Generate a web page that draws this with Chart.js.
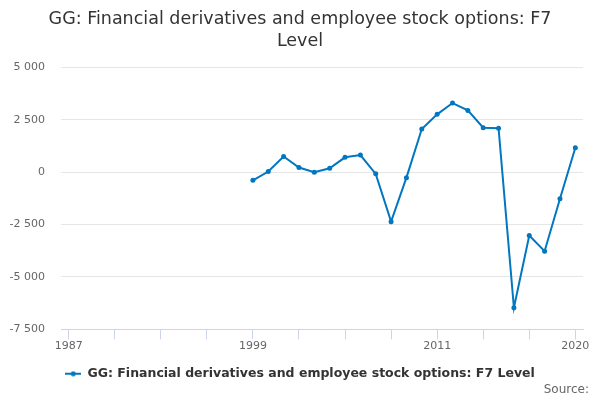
<!DOCTYPE html>
<html>
<head>
<meta charset="utf-8">
<script src="https://cdn.jsdelivr.net/npm/chart.js@4/dist/chart.umd.min.js"></script>
<style>
  html, body { margin: 0; padding: 0; background: #fff; }
  #wrap { width: 600px; height: 400px; }
</style>
</head>
<body>
<div id="wrap"><canvas id="grafico" width="600" height="400"></canvas></div>
<script>
// --- DADOS ---
const anos = [1999, 2000, 2001, 2002, 2003, 2004, 2005, 2006, 2007, 2008, 2009,
              2010, 2011, 2012, 2013, 2014, 2015, 2016, 2017, 2018, 2019, 2020];
const valores = [-390, 30, 750, 220, 0, 190, 710, 820, -80, -2360, -260,
                 2060, 2760, 3300, 2950, 2120, 2100, -6470, -3020, -3770, -1270, 1170];
const anosTicks = [1987, 1990, 1993, 1996, 1999, 2002, 2005, 2008, 2011, 2014, 2017, 2020];
const anosRotulos = [1987, 1999, 2011, 2020];
const yTicks = [-7500, -5000, -2500, 0, 2500, 5000];

const titulo = ['GG: Financial derivatives and employee stock options: F7', 'Level'];
const serieNome = 'GG: Financial derivatives and employee stock options: F7 Level';
const fonte = 'Source:';

const corLinha = '#0077c0';
const corEixo = '#ccd6eb';
const corGrade = '#e6e6e6';
const corTexto = '#666666';
const familia = '"DejaVu Sans", sans-serif';

// formata com espaço de milhar: -7500 -> "-7 500"
function formatarNumero(v) {
    const s = String(Math.abs(v)).replace(/\B(?=(\d{3})+(?!\d))/g, ' ');
    return (v < 0 ? '-' : '') + s;
}

// marcador da legenda: linha com ponto
function criarMarcador() {
    const c = document.createElement('canvas');
    c.width = 16; c.height = 6;
    const g = c.getContext('2d');
    g.strokeStyle = corLinha;
    g.lineWidth = 2;
    g.beginPath(); g.moveTo(0, 3); g.lineTo(16, 3); g.stroke();
    g.fillStyle = corLinha;
    g.beginPath(); g.arc(8, 3, 2.5, 0, Math.PI * 2); g.fill();
    return c;
}

const pluginFonte = {
    id: 'fonte',
    afterDraw(chart) {
        const ctx = chart.ctx;
        ctx.save();
        ctx.font = '12px ' + familia;
        ctx.fillStyle = corTexto;
        ctx.textAlign = 'right';
        ctx.textBaseline = 'middle';
        ctx.fillText(fonte, 589, 390);
        ctx.restore();
    }
};

new Chart(document.getElementById('grafico'), {
    type: 'line',
    data: {
        datasets: [{
            label: serieNome,
            data: anos.map((a, i) => ({ x: a, y: valores[i] })),
            borderColor: corLinha,
            backgroundColor: corLinha,
            borderWidth: 2,
            pointRadius: 2.5,
            pointBorderWidth: 0,
            pointHoverRadius: 3,
            tension: 0,
            fill: false
        }]
    },
    options: {
        responsive: false,
        animation: false,
        layout: { padding: { left: 0, right: 0, top: 0, bottom: 10 } },
        plugins: {
            title: {
                display: true,
                text: titulo,
                color: '#333333',
                font: { family: familia, size: 17.5, weight: 'normal', lineHeight: 1.27 },
                padding: { top: 8, bottom: 15 }
            },
            legend: {
                display: true,
                position: 'bottom',
                labels: {
                    usePointStyle: true,
                    pointStyle: criarMarcador(),
                    pointStyleWidth: 16,
                    color: '#333333',
                    font: { family: familia, size: 12.5, weight: 'bold' },
                    padding: 15
                }
            },
            tooltip: { enabled: false }
        },
        scales: {
            x: {
                type: 'linear',
                min: anosTicks[0] - 0.5,
                max: anosTicks[anosTicks.length - 1] + 0.5,
                afterBuildTicks: (scale) => { scale.ticks = anosTicks.map(v => ({ value: v })); },
                afterFit: (scale) => { scale.paddingRight = 17; },
                grid: {
                    drawOnChartArea: false,
                    drawTicks: true,
                    tickLength: 10,
                    color: corEixo
                },
                border: { display: true, color: corEixo, width: 1 },
                ticks: {
                    autoSkip: false,
                    maxRotation: 0,
                    padding: 0,
                    color: corTexto,
                    font: { family: familia, size: 11 },
                    callback: (v) => anosRotulos.includes(v) ? String(v) : ''
                }
            },
            y: {
                min: yTicks[0],
                max: yTicks[yTicks.length - 1],
                afterBuildTicks: (scale) => { scale.ticks = yTicks.map(v => ({ value: v })); },
                afterFit: (scale) => { scale.width = 61; },
                grid: { color: corGrade, drawTicks: false },
                border: { display: false },
                ticks: {
                    padding: 16,
                    color: corTexto,
                    font: { family: familia, size: 11 },
                    callback: (v) => formatarNumero(v)
                }
            }
        }
    },
    plugins: [pluginFonte]
});
</script>
</body>
</html>
